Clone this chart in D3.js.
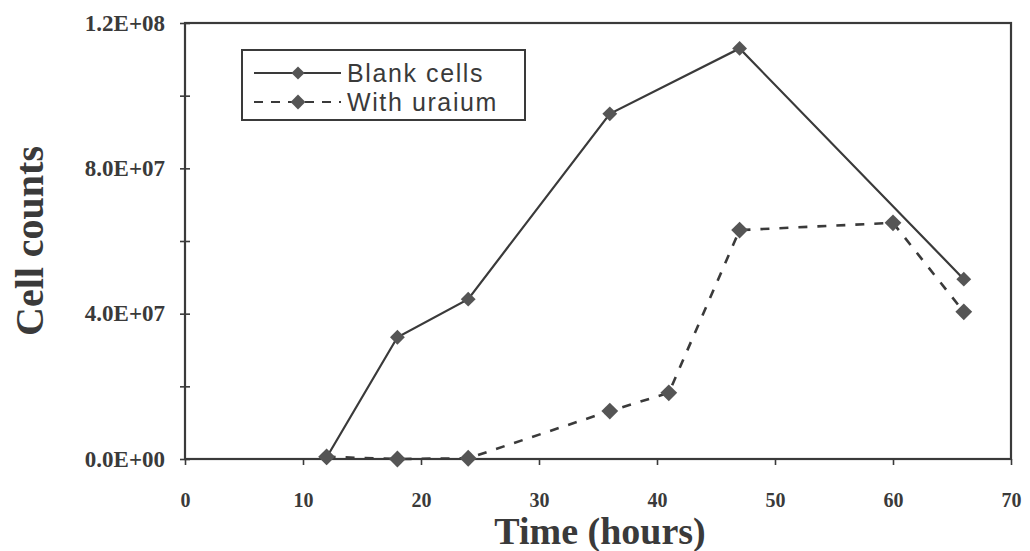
<!DOCTYPE html>
<html>
<head>
<meta charset="utf-8">
<script src="https://cdn.jsdelivr.net/npm/d3@7"></script>
<style>
  html, body { margin: 0; padding: 0; background: #fff; }
  svg { display: block; }
</style>
</head>
<body>
<svg id="chart" width="1030" height="551"></svg>
<script>
// Growth time points (hours)
const hours = [12, 18, 24, 36, 47, 66];
const hoursUraium = [12, 18, 24, 36, 41, 47, 60, 66];

// Cell counts per series
const blankCells = [4e5, 3.35e7, 4.4e7, 9.5e7, 1.13e8, 4.95e7];
const withUraium = [6e5, 0, 2e5, 1.32e7, 1.82e7, 6.3e7, 6.5e7, 4.05e7];

// Axis ticks and labels
const xTicks = [0, 10, 20, 30, 40, 50, 60, 70];
const yTicks = [0, 2e7, 4e7, 6e7, 8e7, 1e8, 1.2e8];
const yLabelTicks = [0, 4e7, 8e7, 1.2e8];
const yTickLabels = ["0.0E+00", "4.0E+07", "8.0E+07", "1.2E+08"];

const seriesNames = ["Blank cells", "With uraium"];

const ink = "#3a3a3a";
const svg = d3.select("#chart");

const plot = { left: 185, right: 1011, top: 23, bottom: 459 };

const x = d3.scaleLinear().domain([0, 70]).range([plot.left, plot.right]);
const y = d3.scaleLinear().domain([0, 1.2e8]).range([plot.bottom, plot.top]);

// Frame around the plotting area
svg.append("rect")
  .attr("x", plot.left).attr("y", plot.top)
  .attr("width", plot.right - plot.left).attr("height", plot.bottom - plot.top)
  .attr("fill", "none").attr("stroke", ink).attr("stroke-width", 2.2);

// X axis (ticks point down, labels below)
const xAxis = d3.axisBottom(x).tickValues(xTicks).tickSize(6).tickPadding(28)
  .tickFormat(d3.format("d"));
const gx = svg.append("g").attr("transform", `translate(0,${plot.bottom})`).call(xAxis);
gx.select(".domain").remove();
gx.selectAll(".tick line").attr("stroke", ink).attr("stroke-width", 1.6);
gx.selectAll(".tick text")
  .attr("font-family", "'Liberation Serif', 'DejaVu Serif', serif")
  .attr("font-size", 20).attr("font-weight", "bold").attr("fill", ink);

// Y axis: crossing ticks every 2E+07, labels every 4E+07
const yAxis = d3.axisLeft(y).tickValues(yTicks).tickSize(5).tickFormat("");
const gy = svg.append("g").attr("transform", `translate(${plot.left},0)`).call(yAxis);
gy.select(".domain").remove();
gy.selectAll(".tick line").attr("x2", 5).attr("x1", -5).attr("stroke", ink).attr("stroke-width", 1.6);

svg.append("g").selectAll("text")
  .data(yLabelTicks)
  .join("text")
  .attr("x", 165)
  .attr("y", d => y(d))
  .attr("dy", "0.34em")
  .attr("text-anchor", "end")
  .attr("font-family", "'Liberation Serif', 'DejaVu Serif', serif")
  .attr("font-size", 23).attr("font-weight", "bold").attr("fill", ink)
  .text((d, i) => yTickLabels[i]);

// Axis titles
svg.append("text")
  .attr("x", 600).attr("y", 544)
  .attr("text-anchor", "middle")
  .attr("font-family", "'Liberation Serif', 'DejaVu Serif', serif")
  .attr("font-size", 38).attr("font-weight", "bold").attr("fill", ink)
  .text("Time (hours)");

svg.append("text")
  .attr("transform", "translate(43,241) rotate(-90)")
  .attr("text-anchor", "middle")
  .attr("font-family", "'Liberation Serif', 'DejaVu Serif', serif")
  .attr("font-size", 40).attr("font-weight", "bold").attr("fill", ink)
  .text("Cell counts");

// Series lines and diamond markers
const line = d3.line().x(d => x(d[0])).y(d => y(d[1]));
const diamond = d3.symbol().type(d3.symbolDiamond2);

const blankData = hours.map((h, i) => [h, blankCells[i]]);
const uraiumData = hoursUraium.map((h, i) => [h, withUraium[i]]);

svg.append("path").datum(blankData)
  .attr("d", line).attr("fill", "none")
  .attr("stroke", ink).attr("stroke-width", 2.2);

svg.append("path").datum(uraiumData)
  .attr("d", line).attr("fill", "none")
  .attr("stroke", ink).attr("stroke-width", 2.6)
  .attr("stroke-dasharray", "9,10");

svg.append("g").selectAll("path")
  .data(blankData).join("path")
  .attr("transform", d => `translate(${x(d[0])},${y(d[1])})`)
  .attr("d", diamond.size(140)).attr("fill", "#555");

svg.append("g").selectAll("path")
  .data(uraiumData).join("path")
  .attr("transform", d => `translate(${x(d[0])},${y(d[1])})`)
  .attr("d", diamond.size(180)).attr("fill", "#555");

// Legend
const legend = svg.append("g");
legend.append("rect")
  .attr("x", 242).attr("y", 50).attr("width", 283).attr("height", 70)
  .attr("fill", "#fff").attr("stroke", ink).attr("stroke-width", 2);

const legendRows = [
  { name: seriesNames[0], y: 73, dash: null, size: 110 },
  { name: seriesNames[1], y: 102, dash: "9,8", size: 140 }
];
legendRows.forEach(r => {
  legend.append("line")
    .attr("x1", 254).attr("x2", 341).attr("y1", r.y).attr("y2", r.y)
    .attr("stroke", ink).attr("stroke-width", 2.2)
    .attr("stroke-dasharray", r.dash);
  legend.append("path")
    .attr("transform", `translate(298,${r.y})`)
    .attr("d", diamond.size(r.size)).attr("fill", "#555");
  legend.append("text")
    .attr("x", 347).attr("y", r.y).attr("dy", "0.35em")
    .attr("font-family", "'Liberation Sans', Arial, sans-serif")
    .attr("font-size", 25).attr("letter-spacing", 1.6).attr("fill", ink)
    .text(r.name);
});
</script>
</body>
</html>
